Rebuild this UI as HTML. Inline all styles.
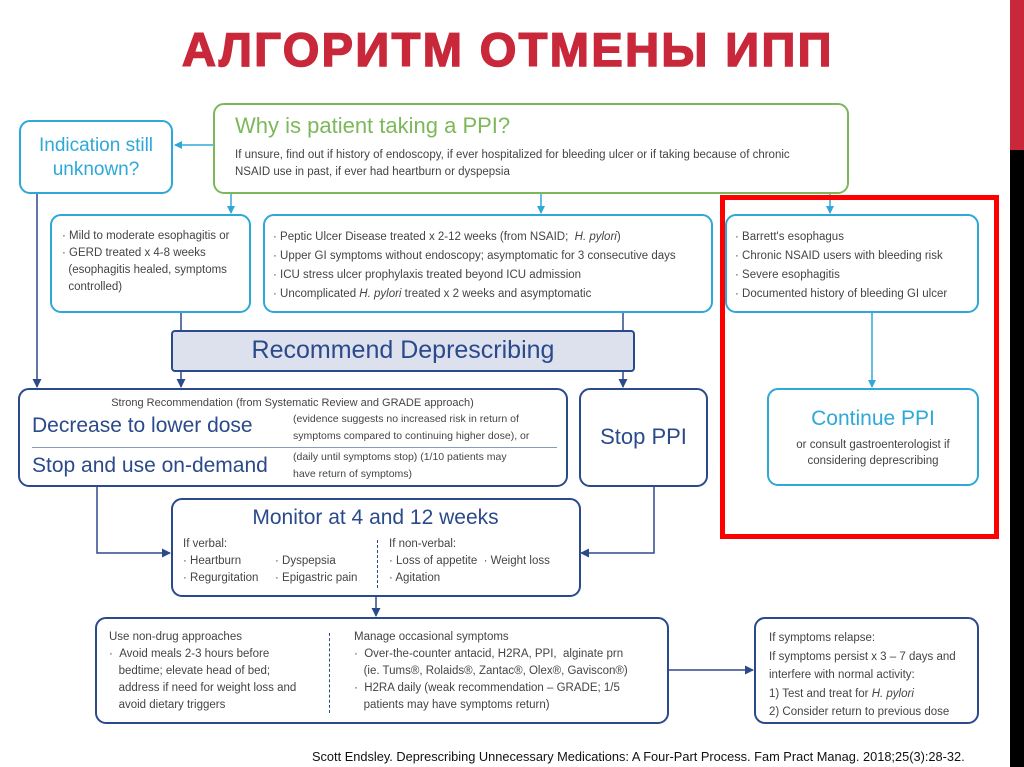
<!DOCTYPE html>
<html><head><meta charset="utf-8"><style>
*{margin:0;padding:0;box-sizing:border-box}
body{width:1024px;height:767px;background:#fff;position:relative;overflow:hidden;font-family:"Liberation Sans","DejaVu Sans",sans-serif;color:#3a3a3a}
.a{position:absolute}
.b{position:absolute;border-radius:11px;background:#fff}
.cy{border:2.5px solid #2ea8d8}
.db{border:2.5px solid #2b4a8b}
.t{font-size:11.5px;line-height:17px;color:#444}
.t div{white-space:nowrap}
.bl{color:#2ea8d8}
.dk{color:#2b4a8b}
</style></head><body>
<div class="a" style="left:1010px;top:0;width:14px;height:150px;background:#c8283a"></div>
<div class="a" style="left:1010px;top:150px;width:14px;height:617px;background:#000"></div>
<div class="a" style="left:182px;top:22px;font-size:47px;font-weight:bold;color:#c8283a;letter-spacing:2.4px;-webkit-text-stroke:1.5px #c8283a;white-space:nowrap">АЛГОРИТМ ОТМЕНЫ ИПП</div>

<svg class="a" style="left:0;top:0" width="1024" height="767">
<defs>
<marker id="ac" markerWidth="8" markerHeight="8" refX="7" refY="4" orient="auto" markerUnits="userSpaceOnUse"><path d="M0,0 L8,4 L0,8z" fill="#2ea8d8"/></marker>
<marker id="ad" markerWidth="9" markerHeight="9" refX="8" refY="4.5" orient="auto" markerUnits="userSpaceOnUse"><path d="M0,0 L9,4.5 L0,9z" fill="#2b4a8b"/></marker>
</defs>
<g stroke="#2ea8d8" stroke-width="1.5" fill="none">
<line x1="213" y1="145" x2="175" y2="145" marker-end="url(#ac)"/>
<line x1="231" y1="193" x2="231" y2="213" marker-end="url(#ac)"/>
<line x1="541" y1="193" x2="541" y2="213" marker-end="url(#ac)"/>
<line x1="830" y1="193" x2="830" y2="213" marker-end="url(#ac)"/>
<line x1="872" y1="312" x2="872" y2="387" marker-end="url(#ac)"/>
</g>
<g stroke="#2b4a8b" stroke-width="1.5" fill="none">
<line x1="37" y1="193" x2="37" y2="387" marker-end="url(#ad)"/>
<line x1="181" y1="312" x2="181" y2="330"/>
<line x1="623" y1="312" x2="623" y2="330"/>
<line x1="181" y1="371" x2="181" y2="387" marker-end="url(#ad)"/>
<line x1="623" y1="371" x2="623" y2="387" marker-end="url(#ad)"/>
<polyline points="97,486 97,553 170,553" marker-end="url(#ad)"/>
<polyline points="654,486 654,553 581,553" marker-end="url(#ad)"/>
<line x1="376" y1="596" x2="376" y2="616" marker-end="url(#ad)"/>
<line x1="668" y1="670" x2="753" y2="670" marker-end="url(#ad)"/>
</g>
<rect x="722.5" y="197.5" width="274" height="339" fill="none" stroke="#f00" stroke-width="5"/>
</svg>

<div class="b cy" style="left:19px;top:120px;width:154px;height:74px;text-align:center;font-size:19px;line-height:24px;padding-top:12px" ><span class="bl">Indication still<br>unknown?</span></div>

<div class="b" style="left:213px;top:103px;width:636px;height:91px;border:2.5px solid #7cb85a;padding:7px 0 0 20px">
<div style="font-size:22px;color:#7cb85a;line-height:27px">Why is patient taking a PPI?</div>
<div class="t" style="margin-top:8px">If unsure, find out if history of endoscopy, if ever hospitalized for bleeding ulcer or if taking because of chronic<br>NSAID use in past, if ever had heartburn or dyspepsia</div>
</div>

<div class="b cy t" style="left:50px;top:214px;width:201px;height:99px;padding:12px 0 0 10px;line-height:17px">
<div>· Mild to moderate esophagitis or</div><div>· GERD treated x 4-8 weeks</div><div>&nbsp;&nbsp;(esophagitis healed, symptoms</div><div>&nbsp;&nbsp;controlled)</div></div>

<div class="b cy t" style="left:263px;top:214px;width:450px;height:99px;padding:12px 0 0 8px;line-height:19px">
<div>· Peptic Ulcer Disease treated x 2-12 weeks (from NSAID;&nbsp; <i>H. pylori</i>)</div>
<div>· Upper GI symptoms without endoscopy; asymptomatic for 3 consecutive days</div>
<div>· ICU stress ulcer prophylaxis treated beyond ICU admission</div>
<div>· Uncomplicated <i>H. pylori</i> treated x 2 weeks and asymptomatic</div></div>

<div class="b cy t" style="left:725px;top:214px;width:254px;height:99px;padding:12px 0 0 8px;line-height:19px">
<div>· Barrett's esophagus</div><div>· Chronic NSAID users with bleeding risk</div><div>· Severe esophagitis</div><div>· Documented history of bleeding GI ulcer</div></div>

<div class="a" style="left:171px;top:330px;width:464px;height:42px;background:#dde1ee;border:2px solid #2b4a8b;border-radius:4px;text-align:center;font-size:25px;line-height:37px;color:#2b4a8b">Recommend Deprescribing</div>

<div class="b db" style="left:18px;top:388px;width:550px;height:99px">
<div class="a t" style="left:0;width:545px;top:5px;text-align:center;font-size:11px">Strong Recommendation (from Systematic Review and GRADE approach)</div>
<div class="a dk" style="left:12px;top:24px;font-size:21px;white-space:nowrap">Decrease to lower dose</div>
<div class="a t" style="left:273px;top:21px;font-size:10.5px;line-height:17px">(evidence suggests no increased risk in return of<br>symptoms compared to continuing higher dose), or</div>
<div class="a" style="left:12px;top:57px;width:525px;height:1px;background:#8a9ab8"></div>
<div class="a dk" style="left:12px;top:64px;font-size:21px;white-space:nowrap">Stop and use on-demand</div>
<div class="a t" style="left:273px;top:59px;font-size:10.5px;line-height:17px">(daily until symptoms stop) (1/10 patients may<br>have return of symptoms)</div>
</div>

<div class="b db" style="left:579px;top:388px;width:129px;height:99px;text-align:center;font-size:22px;line-height:94px"><span class="dk">Stop PPI</span></div>

<div class="b cy" style="left:767px;top:388px;width:212px;height:98px;text-align:center;padding-top:16px">
<div class="bl" style="font-size:21px;line-height:26px">Continue PPI</div>
<div class="t" style="font-size:11.5px;line-height:16px;margin-top:5px">or consult gastroenterologist if<br>considering deprescribing</div></div>

<div class="b db" style="left:171px;top:498px;width:410px;height:99px">
<div class="a dk" style="left:0;width:405px;top:6px;text-align:center;font-size:21px">Monitor at 4 and 12 weeks</div>
<div class="a t" style="left:10px;top:36px;line-height:17px">If verbal:<br>· Heartburn<br>· Regurgitation</div>
<div class="a t" style="left:102px;top:53px;line-height:17px">· Dyspepsia<br>· Epigastric pain</div>
<div class="a" style="left:204px;top:40px;height:48px;border-left:1.5px dashed #2b4a8b"></div>
<div class="a t" style="left:216px;top:36px;line-height:17px">If non-verbal:<br>· Loss of appetite &nbsp;· Weight loss<br>· Agitation</div>
</div>

<div class="b db" style="left:95px;top:617px;width:574px;height:107px">
<div class="a t" style="left:12px;top:10px;line-height:17px">Use non-drug approaches<br>· &nbsp;Avoid meals 2-3 hours before<br>&nbsp;&nbsp;&nbsp;bedtime; elevate head of bed;<br>&nbsp;&nbsp;&nbsp;address if need for weight loss and<br>&nbsp;&nbsp;&nbsp;avoid dietary triggers</div>
<div class="a" style="left:232px;top:14px;height:80px;border-left:1.5px dashed #2b4a8b"></div>
<div class="a t" style="left:257px;top:10px;line-height:17px">Manage occasional symptoms<br>· &nbsp;Over-the-counter antacid, H2RA, PPI,&nbsp; alginate prn<br>&nbsp;&nbsp;&nbsp;(ie. Tums®, Rolaids®, Zantac®, Olex®, Gaviscon®)<br>· &nbsp;H2RA daily (weak recommendation – GRADE; 1/5<br>&nbsp;&nbsp;&nbsp;patients may have symptoms return)</div>
</div>

<div class="b db t" style="left:754px;top:617px;width:225px;height:107px;padding:10px 0 0 13px;line-height:18.5px">
<div>If symptoms relapse:</div><div>If symptoms persist x 3 – 7 days and</div><div>interfere with normal activity:</div><div>1) Test and treat for <i>H. pylori</i></div><div>2) Consider return to previous dose</div></div>

<div class="a" style="left:312px;top:749px;font-size:12.8px;color:#111;white-space:nowrap">Scott Endsley. Deprescribing Unnecessary Medications: A Four-Part Process. Fam Pract Manag. 2018;25(3):28-32.</div>
</body></html>
